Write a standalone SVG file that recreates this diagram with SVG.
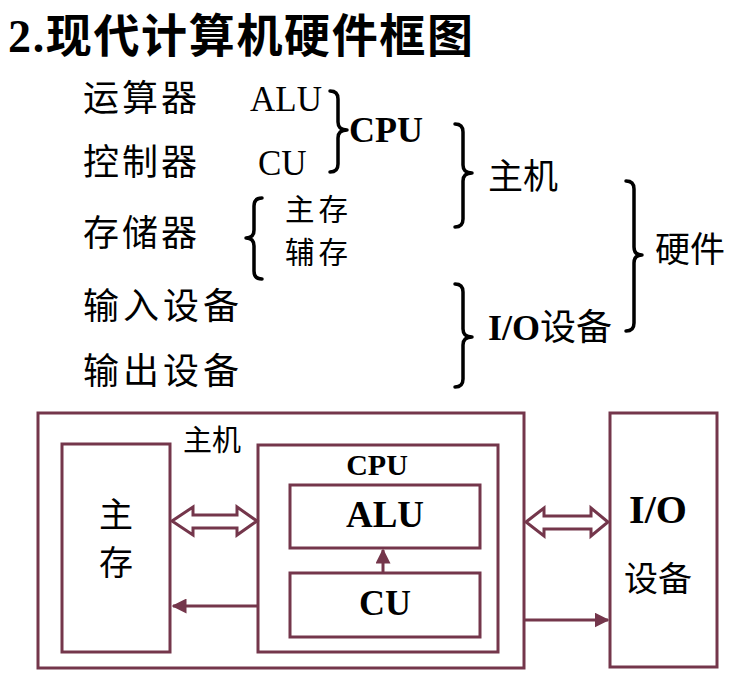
<svg xmlns="http://www.w3.org/2000/svg" width="742" height="685" viewBox="0 0 742 685">
<style>
.t{font-family:"Liberation Serif","Noto Sans CJK SC",serif;fill:#000}
.c{font-family:"Noto Sans CJK SC","Liberation Serif",sans-serif;fill:#000}
.b{font-weight:bold}
.br{fill:none;stroke:#000;stroke-width:3.5;stroke-linecap:round;stroke-linejoin:round}
.box{fill:#fff;stroke:#74364b;stroke-width:3}
.ln{fill:none;stroke:#74364b;stroke-width:3}
.dbl{fill:#fff;stroke:#74364b;stroke-width:3;stroke-linejoin:miter}
</style>
<defs>
<marker id="ah" viewBox="0 0 10 10" refX="9" refY="5" markerWidth="5" markerHeight="5" orient="auto" markerUnits="strokeWidth">
<path d="M0,0 L10,5 L0,10 Z" fill="#74364b"/>
</marker>
</defs>
<rect width="742" height="685" fill="#fff"/>

<text class="t b" x="8" y="52" font-size="46" textLength="465" lengthAdjust="spacing">2.现代计算机硬件框图</text>

<g id="tree">
<text class="c" x="83" y="111" font-size="36" letter-spacing="3">运算器</text>
<text class="c" x="83" y="175" font-size="36" letter-spacing="3">控制器</text>
<text class="c" x="83" y="246" font-size="36" letter-spacing="3">存储器</text>
<text class="c" x="83" y="319" font-size="36" letter-spacing="4">输入设备</text>
<text class="c" x="83" y="384" font-size="36" letter-spacing="4">输出设备</text>
<text class="t" x="250" y="111" font-size="35">ALU</text>
<text class="t" x="258" y="175" font-size="35">CU</text>
<text class="t b" x="349" y="142" font-size="36">CPU</text>
<text class="c" x="285" y="220" font-size="29.5" letter-spacing="4">主存</text>
<text class="c" x="285" y="263" font-size="29.5" letter-spacing="4">辅存</text>
<text class="c" x="488" y="189" font-size="35">主机</text>
<text class="c" x="655" y="262" font-size="35">硬件</text>
<text class="t" x="488" y="340" font-size="36"><tspan class="b">I/O</tspan><tspan font-family="Noto Sans CJK SC">设备</tspan></text>
<!-- braces -->
<path class="br" d="M330,91 Q338,91 338,99 L338,122 Q338,130 347,130 Q338,130 338,138 L338,164 Q338,172 330,172"/>
<path class="br" d="M455,124 Q463,124 463,132 L463,165 Q463,173 472,173 Q463,173 463,181 L463,219 Q463,227 455,227"/>
<path class="br" d="M455,284 Q463,284 463,292 L463,329 Q463,337 472,337 Q463,337 463,345 L463,379 Q463,387 455,387"/>
<path class="br" d="M626,181 Q634,181 634,189 L634,247 Q634,255 642,255 Q634,255 634,263 L634,323 Q634,331 626,331"/>
<path class="br" d="M262,198 Q254,198 254,206 L254,230 Q254,238 246,238 Q254,238 254,246 L254,271 Q254,279 262,279"/>
</g>

<g id="host">
<rect class="box" x="38" y="413" width="486" height="255"/>
<text class="c" x="212" y="451" font-size="29" text-anchor="middle">主机</text>
</g>
<g id="mem">
<rect class="box" x="62" y="444" width="108" height="208"/>
<text class="c" x="116" y="527" font-size="34" text-anchor="middle">主</text>
<text class="c" x="116" y="575" font-size="34" text-anchor="middle">存</text>
</g>
<g id="cpu">
<rect class="box" x="258" y="445" width="240" height="207"/>
<text class="t b" x="377" y="475" font-size="30" text-anchor="middle">CPU</text>
</g>
<g id="alu">
<rect class="box" x="290" y="485" width="190" height="63"/>
<text class="t b" x="385" y="527" font-size="37" text-anchor="middle">ALU</text>
</g>
<g id="cu">
<rect class="box" x="290" y="573" width="190" height="64"/>
<text class="t b" x="385" y="615" font-size="36" text-anchor="middle">CU</text>
</g>
<g id="io">
<rect class="box" x="610" y="413" width="107" height="254"/>
<text class="t b" x="658" y="523" font-size="40" text-anchor="middle">I/O</text>
<text class="c" x="658" y="591" font-size="34" text-anchor="middle">设备</text>
</g>

<g id="connectors">
<polygon class="dbl" points="172,521 193,507 193,515 237,515 237,507 257,521 237,535 237,528 193,528 193,535"/>
<polygon class="dbl" points="526,522 544,508 544,516 591,516 591,508 608,522 591,536 591,529 544,529 544,536"/>
<line class="ln" x1="258" y1="606" x2="173" y2="606" marker-end="url(#ah)"/>
<line class="ln" x1="524" y1="620" x2="608" y2="620" marker-end="url(#ah)"/>
<line class="ln" x1="383" y1="573" x2="383" y2="550" marker-end="url(#ah)"/>
</g>
</svg>
